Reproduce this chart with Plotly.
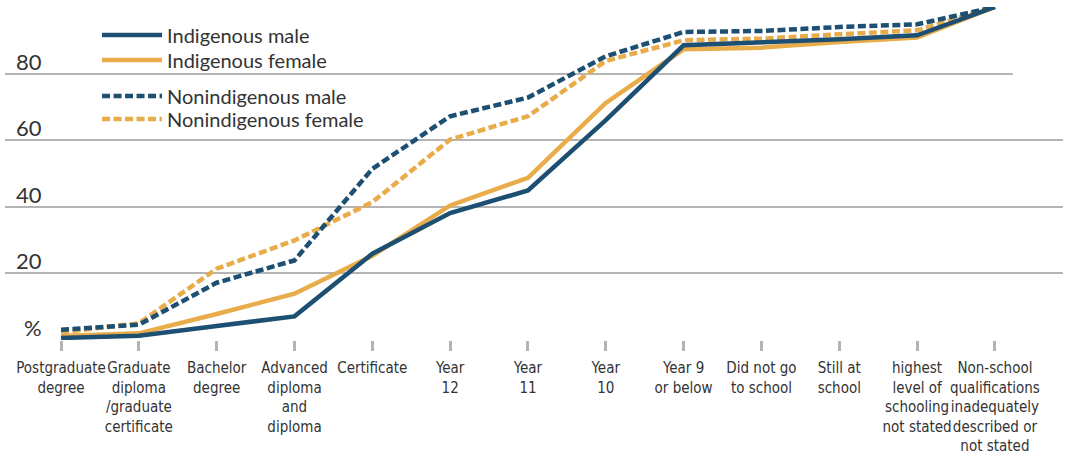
import plotly.graph_objects as go

categories = [
    "Postgraduate<br>degree",
    "Graduate<br>diploma<br>/graduate<br>certificate",
    "Bachelor<br>degree",
    "Advanced<br>diploma<br>and<br>diploma",
    "Certificate",
    "Year<br>12",
    "Year<br>11",
    "Year<br>10",
    "Year 9<br>or below",
    "Did not go<br>to school",
    "Still at<br>school",
    "highest<br>level of<br>schooling<br>not stated",
    "Non-school<br>qualifications<br>inadequately<br>described or<br>not stated",
]

indigenous_male = [0.6, 1.3, 4.2, 7.1, 25.9, 38.1, 44.9, 66.0, 88.5, 89.3, 90.3, 91.5, 100]
indigenous_female = [1.2, 2.0, 7.8, 13.9, 25.3, 40.4, 48.7, 71.2, 87.3, 87.8, 89.5, 90.8, 100]
nonindigenous_male = [3.1, 4.6, 17.2, 23.9, 51.4, 67.2, 72.8, 85.2, 92.5, 92.8, 94.0, 94.8, 100]
nonindigenous_female = [2.3, 5.0, 21.4, 29.9, 41.4, 60.2, 67.2, 83.8, 90.0, 90.5, 91.8, 93.0, 100]

y_ticks = [0, 20, 40, 60, 80]
y_tick_labels = ["%", "20", "40", "60", "80"]

BLUE = "#1c4f72"
ORANGE = "#e9ac4b"
GRID = "#b4b4b4"
TEXT = "#333333"
LEGEND_FONT = dict(family="Lato, sans-serif", size=20, color=TEXT)

x = list(range(len(categories)))

fig = go.Figure()
series = [
    ("Nonindigenous female", nonindigenous_female, ORANGE, "8px,3.5px", "legend4", 0.664),
    ("Nonindigenous male", nonindigenous_male, BLUE, "8px,3.5px", "legend3", 0.733),
    ("Indigenous female", indigenous_female, ORANGE, "solid", "legend2", 0.841),
    ("Indigenous male", indigenous_male, BLUE, "solid", "legend", 0.916),
]
legends = {}
for name, vals, col, dash, lg, ly in series:
    fig.add_trace(go.Scatter(
        x=x, y=vals, name=name, mode="lines",
        line=dict(color=col, width=4.5, dash=dash),
        cliponaxis=False, legend=lg, hoverinfo="skip",
    ))
    legends[lg] = dict(
        x=0.087, y=ly, xanchor="left", yanchor="middle",
        bgcolor="rgba(0,0,0,0)", font=LEGEND_FONT, itemwidth=60,
    )

annotations = []
for v, lab in zip(y_ticks, y_tick_labels):
    annotations.append(dict(
        xref="paper", yref="y", x=0.037, y=v, text=lab, showarrow=False,
        xanchor="right", yanchor="bottom", yshift=-3,
        font=dict(family="Lato, sans-serif", size=22, color=TEXT),
    ))

fig.update_layout(
    width=1068, height=462,
    margin=dict(l=5, r=5, t=7, b=122),
    paper_bgcolor="white", plot_bgcolor="white",
    showlegend=True,
    xaxis=dict(
        range=[-0.72, 12.875], automargin=False,
        tickmode="array", tickvals=x, ticktext=categories, tickangle=0,
        showgrid=False, zeroline=False, showline=False,
        ticks="outside", ticklen=10, tickwidth=3, tickcolor=GRID,
        ticklabelstandoff=4,
        tickfont=dict(family="DejaVu Sans Condensed, sans-serif", size=15, color=TEXT),
    ),
    yaxis=dict(
        range=[0, 100], automargin=False,
        tickvals=[0, 20, 40, 60, 80, 100],
        showticklabels=False,
        showgrid=True, gridcolor=GRID, gridwidth=1.5,
        zeroline=False, showline=False,
    ),
    annotations=annotations,
    shapes=[
        dict(type="rect", xref="x", yref="y", x0=12.23, x1=12.9, y0=79, y1=81,
             fillcolor="white", line=dict(width=0), layer="between"),
        dict(type="rect", xref="paper", yref="y", x0=0.069, x1=0.328, y0=79, y1=81,
             fillcolor="white", line=dict(width=0), layer="between"),
    ],
    **legends,
)

fig.write_html("out.html", config={"displayModeBar": False},
               post_script="document.body.style.margin='0';")
